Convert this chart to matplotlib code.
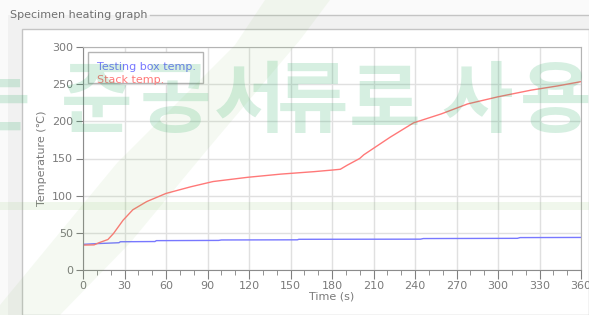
''' Specimen heating graph '''
import matplotlib
matplotlib.use('Agg')
import matplotlib.pyplot as plt
from matplotlib.patches import Rectangle, Polygon
from matplotlib.lines import Line2D
from matplotlib.ticker import MultipleLocator

W, H = 589, 315

# testing box temperature (blue)
t_box = [0, 10, 26, 27, 52, 53, 98, 100, 155, 156, 244, 246, 314, 316, 360]
box_temp = [34.5, 35.5, 36.7, 38.0, 38.3, 39.5, 39.8, 40.4, 40.6, 41.3, 41.5, 42.3, 42.6, 43.6, 43.8]

# stack temperature (red)
t_stack = [0, 8, 12, 18, 22, 29, 36, 46, 60, 78, 94, 119, 143, 167, 181, 186, 191,
           200, 203, 210, 222, 239, 259, 278, 300, 324, 343, 360]
stack_temp = [33.5, 33.8, 37, 41, 49, 67, 81, 92, 103, 112, 119, 124.7, 129, 132.3, 134.6, 135.5, 141,
              150, 155, 163.7, 178.6, 198, 210, 223.4, 233, 242, 247.6, 253.4]

labels = ['Testing box temp.', 'Stack temp.']
cols = ['#7878ff', '#ff7878']

watermark = ['는', '준', '공', '서', '류', '로', '사', '용']
wm_x = [-5, 97, 175, 250, 313, 385, 477, 556]

gray = '#808080'


def px(x, y):
    return (x / W, 1 - y / H)


fig = plt.figure(figsize=(W / 100, H / 100), dpi=100)
fig.patch.set_facecolor('#fafafa')

# group box + inner panel
fig.add_artist(Rectangle(px(8, 315), (W - 8) / W, 300 / H, transform=fig.transFigure,
                         facecolor='#f1f1f1', edgecolor='none', zorder=0))
fig.add_artist(Line2D([150 / W, 1], [1 - 15 / H] * 2, transform=fig.transFigure, color='#c4c4c4', lw=1))
fig.add_artist(Rectangle(px(22, 315), (W - 22) / W, 286 / H, transform=fig.transFigure,
                         facecolor='white', edgecolor='#c4c4c4', lw=1, zorder=0))
fig.text(10 / W, 1 - 15 / H, 'Specimen heating graph', fontsize=8, color='#707070', va='center')

ax = fig.add_axes([83 / W, 1 - 270 / H, 498 / W, 223 / H])
ax.set_facecolor('none')

ax.plot(t_box, box_temp, color=cols[0], lw=1)
ax.plot(t_stack, stack_temp, color=cols[1], lw=1)

ax.set_xlim(0, 360)
ax.set_ylim(0, 300)
ax.xaxis.set_major_locator(MultipleLocator(30))
ax.xaxis.set_minor_locator(MultipleLocator(10))
ax.yaxis.set_major_locator(MultipleLocator(50))
ax.grid(True, color='#e0e0e0', lw=1)
ax.set_axisbelow(True)
ax.tick_params(axis='both', which='both', direction='out', color=gray, labelcolor='#7a7a7a',
               labelsize=8, pad=2)
ax.tick_params(axis='x', which='major', length=6.2)
ax.tick_params(axis='x', which='minor', length=3.3)
ax.tick_params(axis='y', which='major', length=5)
for s in ['left', 'bottom']:
    ax.spines[s].set_color('#8c8c8c')
for s in ['top', 'right']:
    ax.spines[s].set_color('#b4b4b4')

ax.set_xlabel('Time (s)', fontsize=8, color='#7a7a7a', labelpad=0)
ax.set_ylabel('Temperature (℃)', fontsize=8, color='#7a7a7a', labelpad=4)

# legend box drawn like the original control
ax.add_patch(Rectangle((0.01, 0.839), 0.231, 0.139, transform=ax.transAxes,
                       facecolor='white', edgecolor='#b4b4b4', lw=1, zorder=5))
ax.text(0.0275, 0.912, labels[0], transform=ax.transAxes, color=cols[0], fontsize=8,
        va='center', zorder=6)
ax.text(0.0275, 0.852, labels[1], transform=ax.transAxes, color=cols[1], fontsize=8,
        va='center', zorder=6)

# faint watermark
wm_col = (40 / 255, 170 / 255, 100 / 255)
leaf = (0.45, 0.72, 0.3)
fig.add_artist(Polygon([px(0, 305), px(117, 163), px(235, 45), px(265, 0),
                        px(330, 0), px(300, 40), px(207, 150), px(130, 243), px(60, 315), px(0, 315)],
                       closed=True, transform=fig.transFigure, facecolor=leaf,
                       edgecolor='none', alpha=0.07, zorder=10))
fig.add_artist(Rectangle(px(0, 210), 1, 8 / H, transform=fig.transFigure,
                         facecolor=leaf, edgecolor='none', alpha=0.1, zorder=10))
for ch, x in zip(watermark, wm_x):
    fig.text(x / W, 1 - 103 / H, ch, fontsize=56, family='Noto Sans CJK KR', weight='bold',
             color=wm_col, alpha=0.19, ha='center', va='center', zorder=4)

fig.savefig('out.png', dpi=100, facecolor=fig.get_facecolor())
